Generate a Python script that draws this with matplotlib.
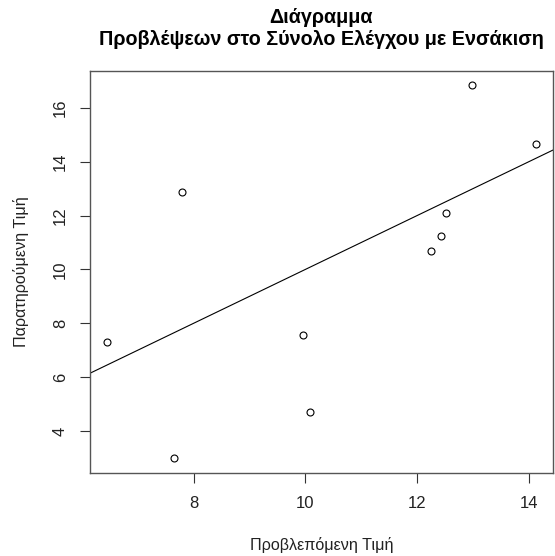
import matplotlib
matplotlib.use("Agg")
import matplotlib.pyplot as plt
import numpy as np

plt.rcParams['font.family'] = ['Liberation Sans', 'DejaVu Sans']

predicted = [6.45, 7.79, 7.64, 12.98, 14.13, 12.52, 12.43, 12.26, 9.95, 10.08]
observed = [7.29, 12.87, 3.00, 16.84, 14.66, 12.08, 11.25, 10.69, 7.57, 4.72]
x_ticks = [8, 10, 12, 14]
y_ticks = [4, 6, 8, 10, 12, 14, 16]
title_lines = ["Διάγραμμα", "Προβλέψεων στο Σύνολο Ελέγχου με Ενσάκιση"]
xlabel = "Προβλεπόμενη Τιμή"
ylabel = "Παρατηρούμενη Τιμή"

W, H = 555, 556
fig = plt.figure(figsize=(W / 100, H / 100), dpi=100)
left, right, top, bottom = 90, 553, 70.5, 472.7
ax = fig.add_axes([left / W, (H - bottom) / H, (right - left) / W, (bottom - top) / H])

ax.plot(predicted, observed, linestyle='none', marker='o', markersize=5,
        markerfacecolor='none', markeredgecolor='black', markeredgewidth=0.8)

def ext(v):
    lo, hi = min(v), max(v)
    s = hi - lo
    return lo - 0.04 * s, hi + 0.04 * s

ax.set_xlim(ext(predicted))
ax.set_ylim(ext(observed))
ax.axline((0, 0), slope=1, color='black', linewidth=0.8)

ax.set_xticks(x_ticks)
ax.set_yticks(y_ticks)
ax.tick_params(axis='both', direction='out', length=7, width=0.8, color='#333333',
               labelsize=12, labelcolor='#222222')
ax.tick_params(axis='x', pad=10)
ax.tick_params(axis='y', pad=9)
for lab in ax.get_yticklabels():
    lab.set_rotation(90)
    lab.set_va('center')
for sp in ax.spines.values():
    sp.set_color('#555555')
    sp.set_linewidth(1.0)

cx = (left + right) / 2 / W
fig.text(cx, 1 - 23.3 / H, title_lines[0], ha='center', va='baseline',
         fontsize=14.2, fontweight='bold')
fig.text(cx, 1 - 45.3 / H, title_lines[1], ha='center', va='baseline',
         fontsize=14.2, fontweight='bold')
fig.text(cx, 1 - 550 / H, xlabel, ha='center', va='baseline',
         fontsize=11.6, color='#222222')
fig.text(21 / W, 1 - ((top + bottom) / 2) / H, ylabel, ha='center', va='center',
         rotation=90, fontsize=11.6, color='#222222')

fig.savefig('out.png', dpi=100)
